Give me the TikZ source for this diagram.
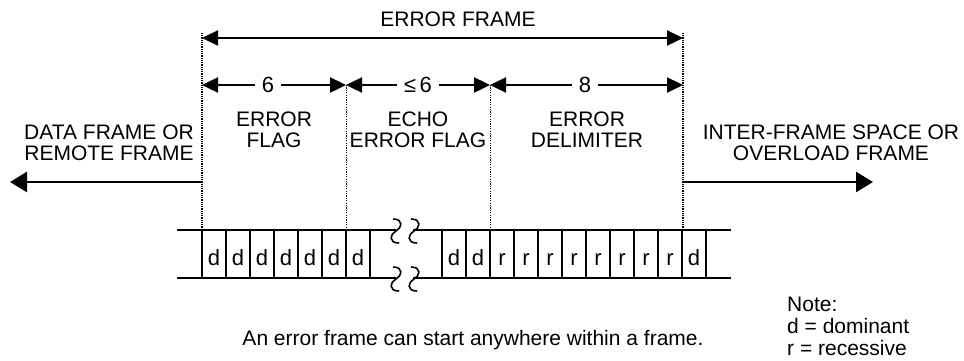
\documentclass[tikz,border=0pt]{standalone}
\usepackage{fontspec}
\setmainfont{Liberation Sans}
\usetikzlibrary{arrows.meta}
\begin{document}
\begin{tikzpicture}[x=1pt,y=-1pt,
  txt/.style={font=\fontsize{21}{21}\selectfont, inner sep=0pt, align=center},
  notetxt/.style={font=\fontsize{21}{22}\selectfont, inner sep=0pt, align=left},
  bit/.style={font=\fontsize{22}{22}\selectfont, inner sep=0pt, anchor=base},
  dimarrow/.style={line width=2.4pt, {Triangle[length=16pt,width=15pt]}-{Triangle[length=16pt,width=15pt]}},
  bigarrow/.style={line width=2.6pt, -{Triangle[length=17pt,width=20pt]}},
  outerdot/.style={line width=1.6pt, dash pattern=on 1pt off 0.8pt},
  innerdot/.style={line width=1pt, dash pattern=on 1.2pt off 1.2pt},
  strip/.style={line width=2.8pt},
  squig/.style={line width=1.6pt},
  gaplbl/.style={font=\fontsize{22}{22}\selectfont, fill=white, inner xsep=7pt, inner ysep=2pt}
]
\useasboundingbox (0,0) rectangle (964,360);

% dotted boundaries
\coordinate (t0) at (202,33);
\coordinate (b0) at (202,230);
\coordinate (t3) at (683,33);
\coordinate (b3) at (683,230);
\coordinate (t1) at (346,85);
\coordinate (b1) at (346,230);
\coordinate (t2) at (490,85);
\coordinate (b2) at (490,230);
\draw[outerdot] (t0) -- (b0);
\draw[outerdot] (t3) -- (b3);
\draw[innerdot] (t1) -- (b1);
\draw[innerdot] (t2) -- (b2);

% error frame arrow
\coordinate (efl) at (202,38);
\coordinate (efr) at (683,38);
\draw[dimarrow] (efl) -- (efr);
\node[txt, anchor=base] (ef) at (458,26) {ERROR FRAME};

% sub arrows
\coordinate (s0) at (202,85);
\coordinate (s1) at (346,85);
\coordinate (s2) at (490,85);
\coordinate (s3) at (683,85);
\draw[dimarrow] (s0) -- (s1);
\draw[dimarrow] (s1) -- (s2);
\draw[dimarrow] (s2) -- (s3);
\node[gaplbl] (n6) at (268,85) {6};
\node[gaplbl] (nle6) at (418,85) {≤\,6};
\node[gaplbl] (n8) at (585,85) {8};

% field labels
\node[txt, anchor=north] (eflag) at (274,112) {ERROR\\FLAG};
\node[txt, anchor=north] (echo) at (418,112) {ECHO\\ERROR FLAG};
\node[txt, anchor=north] (edel) at (587,112) {ERROR\\DELIMITER};

% side labels and arrows
\node[txt, anchor=north] (dfr) at (109,125) {DATA FRAME OR\\REMOTE FRAME};
\node[txt, anchor=north] (ifs) at (831,125) {INTER-FRAME SPACE OR\\OVERLOAD FRAME};
\coordinate (la0) at (202,182);
\coordinate (la1) at (10,182);
\coordinate (ra0) at (683,182);
\coordinate (ra1) at (873,182);
\draw[bigarrow] (la0) -- (la1);
\draw[bigarrow] (ra0) -- (ra1);

% bit strip
\coordinate (sl1) at (177,230);
\coordinate (sl2) at (396,230);
\coordinate (sr1) at (413,230);
\coordinate (sr2) at (731,230);
\coordinate (bl1) at (177,278);
\coordinate (bl2) at (396,278);
\coordinate (br1) at (413,278);
\coordinate (br2) at (731,278);
\draw[strip] (sl1) -- (sl2);
\draw[strip] (sr1) -- (sr2);
\draw[strip] (bl1) -- (bl2);
\draw[strip] (br1) -- (br2);
\foreach \k in {0,...,7} {
  \draw[strip] ({202+24*\k},230) -- ({202+24*\k},278);
}
\foreach \k in {0,...,11} {
  \draw[strip] ({442+24*\k},230) -- ({442+24*\k},278);
}
\foreach \k in {0,...,6} {
  \node[bit] (ld\k) at ({214+24*\k},265) {d};
}
\node[bit] (rd0) at (454,265) {d};
\node[bit] (rd1) at (478,265) {d};
\foreach \k in {0,...,7} {
  \node[bit] (rr\k) at ({502+24*\k},265) {r};
}
\node[bit] (rd2) at (694,265) {d};

% break squiggles
\foreach \x in {396,414} {
  \foreach \c in {231,279} {
    \draw[squig] (\x-3,\c-12) .. controls (\x+8,\c-12) and (\x+6,\c-3) .. (\x,\c)
      .. controls (\x-6,\c+3) and (\x-8,\c+12) .. (\x+3,\c+12);
  }
}

% notes
\node[txt, anchor=base] (sentence) at (473,345) {An error frame can start anywhere within a frame.};
\node[notetxt, anchor=north west] (note) at (787,297) {Note:\\d = dominant\\r = recessive};
\end{tikzpicture}
\end{document}
